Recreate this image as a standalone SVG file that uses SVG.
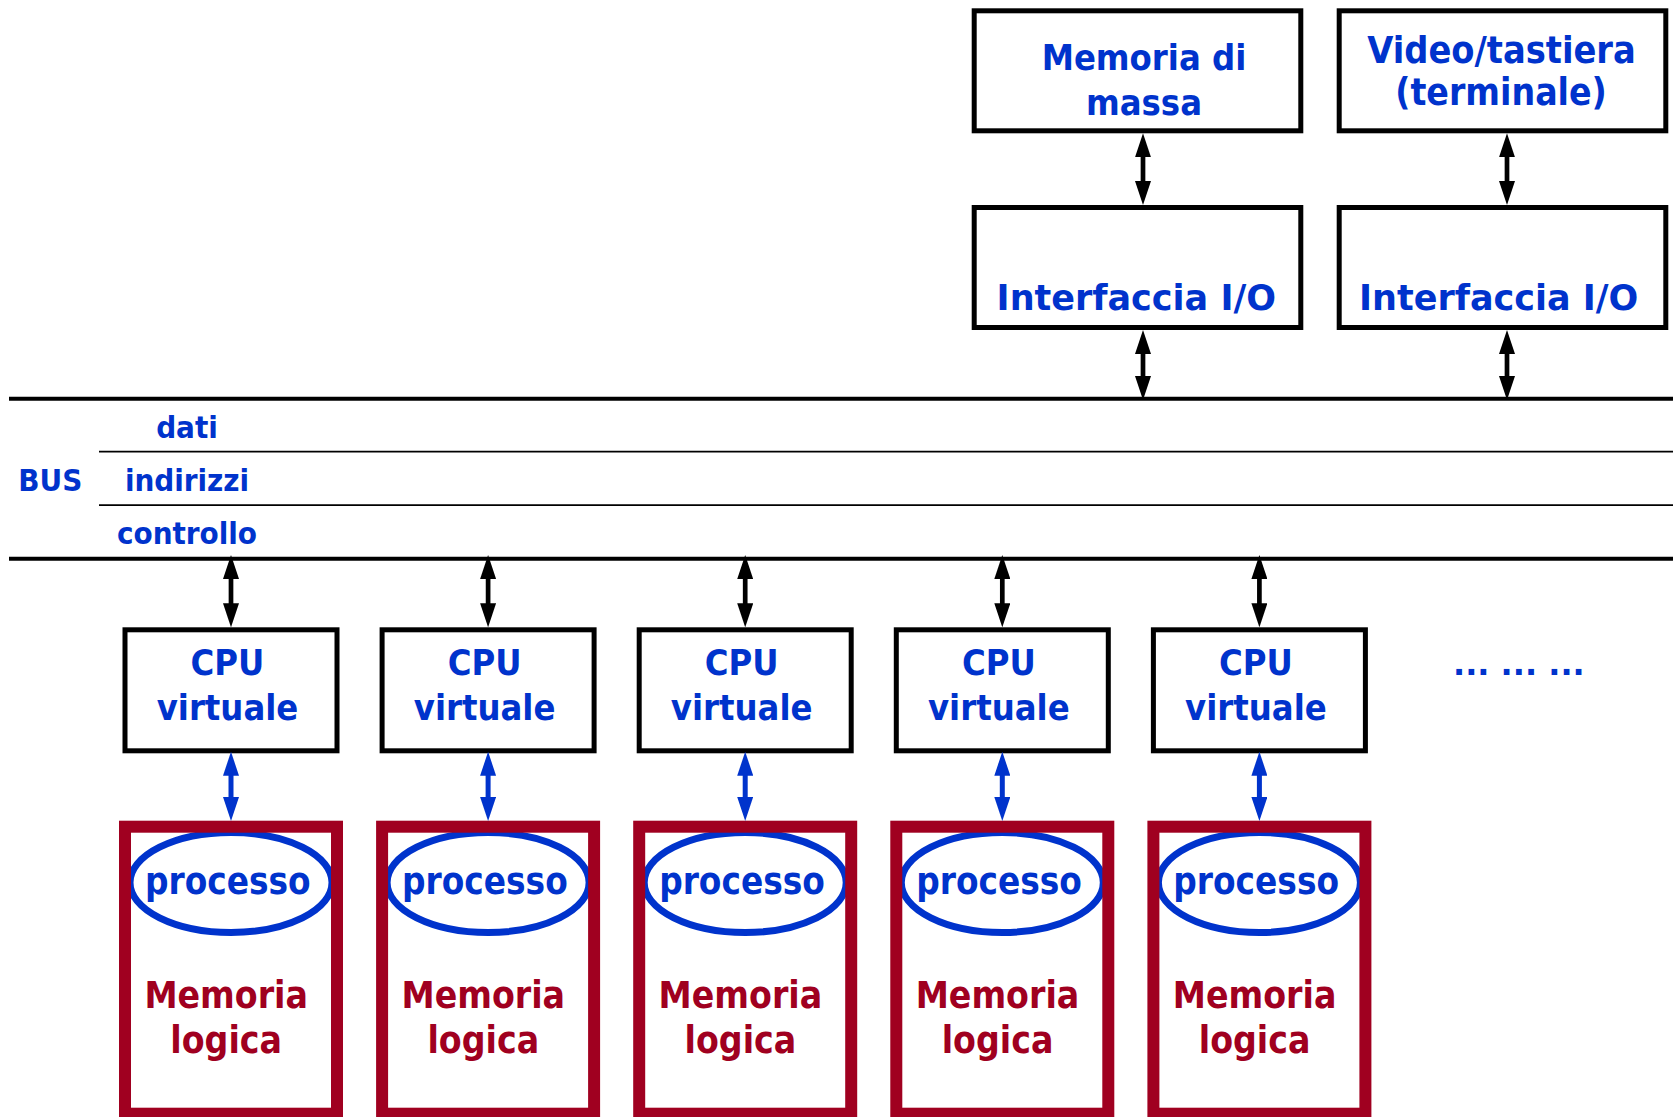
<svg xmlns="http://www.w3.org/2000/svg" width="1675" height="1117" viewBox="0 0 1675 1117">
  <style>
    .box { fill: #ffffff; stroke: #000000; stroke-width: 5; }
    .mem { fill: none; stroke: #a00020; stroke-width: 12; }
    .proc { fill: none; stroke: #0033cc; stroke-width: 7; }
    .bus { stroke: #000000; stroke-width: 4; }
    .sub { stroke: #000000; stroke-width: 1.8; }
    .lbl { font-family: "DejaVu Sans Condensed", "DejaVu Sans", sans-serif; font-stretch: condensed; font-weight: bold; fill: #0033cc; text-anchor: middle; }
    .wide { font-family: "DejaVu Sans", sans-serif; font-stretch: normal; }
    .red { fill: #a00020; }
    .link { stroke: #000000; stroke-width: 4.7; fill: none; marker-start: url(#headK); marker-end: url(#headK); }
    .link-b { stroke: #0033cc; stroke-width: 5; fill: none; marker-start: url(#headB); marker-end: url(#headB); }
  </style>
  <defs>
    <marker id="headK" viewBox="0 0 24 16" refX="12" refY="8" markerWidth="24" markerHeight="16" markerUnits="userSpaceOnUse" orient="auto-start-reverse">
      <path d="M0,0 L24,8 L0,16 Z" fill="#000000"/>
    </marker>
    <marker id="headB" viewBox="0 0 24 16" refX="12" refY="8" markerWidth="24" markerHeight="16" markerUnits="userSpaceOnUse" orient="auto-start-reverse">
      <path d="M0,0 L24,8 L0,16 Z" fill="#0033cc"/>
    </marker>
  </defs>

  <rect width="1675" height="1117" fill="#ffffff"/>

  <!-- system bus: data / address / control -->
  <g id="bus">
    <line class="bus" x1="9" y1="398.7" x2="1673" y2="398.7"/>
    <line class="sub" x1="99" y1="451.7" x2="1673" y2="451.7"/>
    <line class="sub" x1="99" y1="505.2" x2="1673" y2="505.2"/>
    <line class="bus" x1="9" y1="558.7" x2="1673" y2="558.7"/>
    <text class="lbl" x="50.3" y="490.7" font-size="31">BUS</text>
    <text class="lbl" x="187" y="438.3" font-size="31">dati</text>
    <text class="lbl" x="187" y="490.7" font-size="31">indirizzi</text>
    <text class="lbl" x="187" y="544.3" font-size="31">controllo</text>
  </g>

  <!-- peripherals and their I/O interfaces -->
  <g id="mass-storage">
    <rect class="box" x="974.2" y="10.8" width="326.6" height="120"/>
    <text class="lbl" x="1144" y="70" font-size="36">Memoria di</text>
    <text class="lbl" x="1144" y="115" font-size="36">massa</text>
  </g>
  <g id="terminal">
    <rect class="box" x="1339.2" y="10.8" width="326.6" height="120"/>
    <text class="lbl" x="1501.5" y="62.7" font-size="37.5">Video/tastiera</text>
    <text class="lbl" x="1501" y="105" font-size="37">(terminale)</text>
  </g>
  <g id="io-interface-1">
    <rect class="box" x="974.2" y="207.5" width="326.6" height="120"/>
    <text class="lbl wide" x="1136.3" y="310" font-size="35">Interfaccia I/O</text>
  </g>
  <g id="io-interface-2">
    <rect class="box" x="1339.2" y="207.5" width="326.6" height="120"/>
    <text class="lbl wide" x="1498.7" y="310" font-size="35">Interfaccia I/O</text>
  </g>

  <!-- virtual CPUs -->
  <g id="cpu-1">
    <rect class="box" x="125" y="629.8" width="212" height="121"/>
    <text class="lbl" x="227.5" y="675" font-size="36">CPU</text>
    <text class="lbl" x="227.5" y="720" font-size="36">virtuale</text>
  </g>
  <g id="cpu-2">
    <rect class="box" x="382.1" y="629.8" width="212" height="121"/>
    <text class="lbl" x="484.6" y="675" font-size="36">CPU</text>
    <text class="lbl" x="484.6" y="720" font-size="36">virtuale</text>
  </g>
  <g id="cpu-3">
    <rect class="box" x="639.2" y="629.8" width="212" height="121"/>
    <text class="lbl" x="741.7" y="675" font-size="36">CPU</text>
    <text class="lbl" x="741.7" y="720" font-size="36">virtuale</text>
  </g>
  <g id="cpu-4">
    <rect class="box" x="896.3" y="629.8" width="212" height="121"/>
    <text class="lbl" x="998.8" y="675" font-size="36">CPU</text>
    <text class="lbl" x="998.8" y="720" font-size="36">virtuale</text>
  </g>
  <g id="cpu-5">
    <rect class="box" x="1153.4" y="629.8" width="212" height="121"/>
    <text class="lbl" x="1255.9" y="675" font-size="36">CPU</text>
    <text class="lbl" x="1255.9" y="720" font-size="36">virtuale</text>
  </g>
  <g id="more">
    <text class="lbl wide" x="1453" y="675" font-size="32" style="text-anchor:start">... ... ...</text>
  </g>

  <!-- logical memories, each holding one process -->
  <g id="memory-1">
    <ellipse class="proc" cx="231" cy="882.5" rx="101" ry="50"/>
    <rect class="mem" x="125" y="826.7" width="212" height="287"/>
    <text class="lbl" x="227.8" y="894" font-size="36.5">processo</text>
    <text class="lbl red" x="226.2" y="1008.3" font-size="37">Memoria</text>
    <text class="lbl red" x="226.2" y="1053.3" font-size="37">logica</text>
  </g>
  <g id="memory-2">
    <ellipse class="proc" cx="488.1" cy="882.5" rx="101" ry="50"/>
    <rect class="mem" x="382.1" y="826.7" width="212" height="287"/>
    <text class="lbl" x="484.9" y="894" font-size="36.5">processo</text>
    <text class="lbl red" x="483.3" y="1008.3" font-size="37">Memoria</text>
    <text class="lbl red" x="483.3" y="1053.3" font-size="37">logica</text>
  </g>
  <g id="memory-3">
    <ellipse class="proc" cx="745.2" cy="882.5" rx="101" ry="50"/>
    <rect class="mem" x="639.2" y="826.7" width="212" height="287"/>
    <text class="lbl" x="742" y="894" font-size="36.5">processo</text>
    <text class="lbl red" x="740.4" y="1008.3" font-size="37">Memoria</text>
    <text class="lbl red" x="740.4" y="1053.3" font-size="37">logica</text>
  </g>
  <g id="memory-4">
    <ellipse class="proc" cx="1002.3" cy="882.5" rx="101" ry="50"/>
    <rect class="mem" x="896.3" y="826.7" width="212" height="287"/>
    <text class="lbl" x="999.1" y="894" font-size="36.5">processo</text>
    <text class="lbl red" x="997.5" y="1008.3" font-size="37">Memoria</text>
    <text class="lbl red" x="997.5" y="1053.3" font-size="37">logica</text>
  </g>
  <g id="memory-5">
    <ellipse class="proc" cx="1259.4" cy="882.5" rx="101" ry="50"/>
    <rect class="mem" x="1153.4" y="826.7" width="212" height="287"/>
    <text class="lbl" x="1256.2" y="894" font-size="36.5">processo</text>
    <text class="lbl red" x="1254.6" y="1008.3" font-size="37">Memoria</text>
    <text class="lbl red" x="1254.6" y="1053.3" font-size="37">logica</text>
  </g>

  <!-- bidirectional links -->
  <g id="connectors">
    <line class="link" x1="1143" y1="145.3" x2="1143" y2="193"/>
    <line class="link" x1="1507" y1="145.3" x2="1507" y2="193"/>
    <line class="link" x1="1143" y1="342" x2="1143" y2="388"/>
    <line class="link" x1="1507" y1="342" x2="1507" y2="388"/>

    <line class="link" x1="231" y1="567" x2="231" y2="615.3"/>
    <line class="link" x1="488.1" y1="567" x2="488.1" y2="615.3"/>
    <line class="link" x1="745.2" y1="567" x2="745.2" y2="615.3"/>
    <line class="link" x1="1002.3" y1="567" x2="1002.3" y2="615.3"/>
    <line class="link" x1="1259.4" y1="567" x2="1259.4" y2="615.3"/>

    <line class="link-b" x1="231" y1="763.7" x2="231" y2="809"/>
    <line class="link-b" x1="488.1" y1="763.7" x2="488.1" y2="809"/>
    <line class="link-b" x1="745.2" y1="763.7" x2="745.2" y2="809"/>
    <line class="link-b" x1="1002.3" y1="763.7" x2="1002.3" y2="809"/>
    <line class="link-b" x1="1259.4" y1="763.7" x2="1259.4" y2="809"/>
  </g>
</svg>
